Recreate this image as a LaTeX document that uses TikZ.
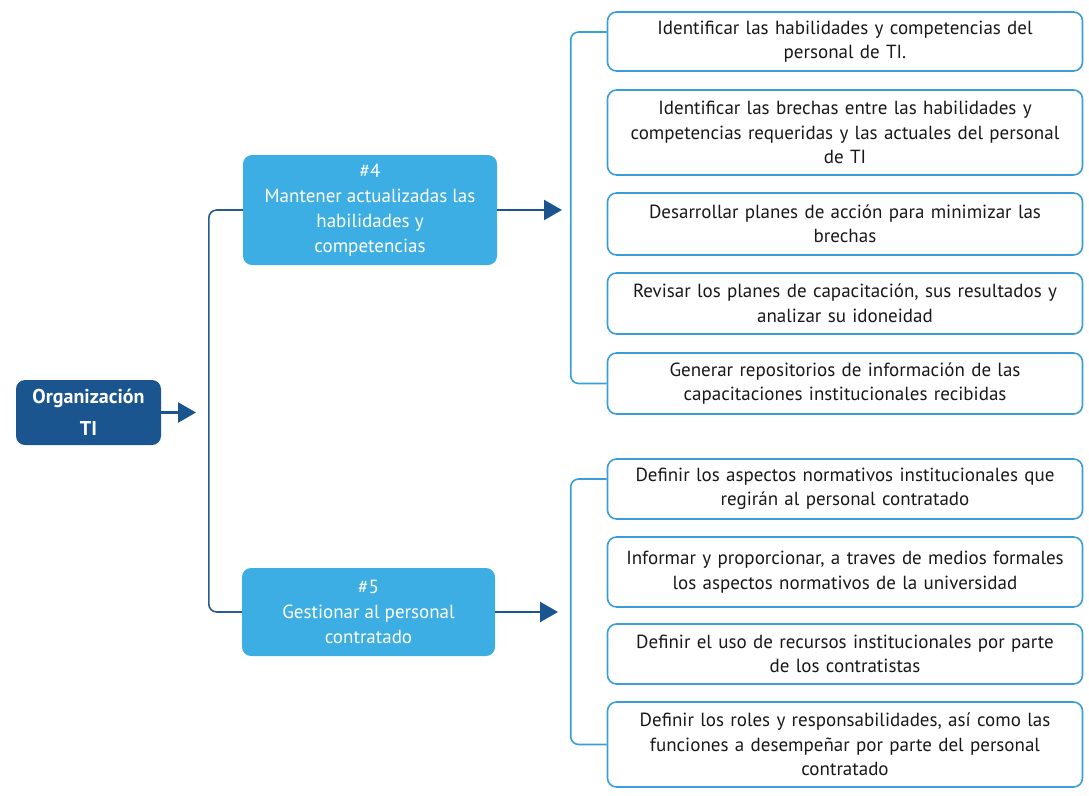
\documentclass[tikz,border=0pt]{standalone}
\usepackage{fontspec}
\setmainfont{PT Sans}
\usetikzlibrary{arrows.meta}
\definecolor{darkb}{HTML}{1B5590}
\definecolor{lightb}{HTML}{3DAEE3}
\definecolor{edgeb}{HTML}{3A9FD6}
\definecolor{linedark}{HTML}{2B5A8C}
\tikzset{
  rbox/.style={draw=edgeb, line width=1.6pt, fill=white, rounded corners=9pt,
    minimum width=475pt, text width=470pt, align=center, inner sep=0pt,
    font=\fontsize{19}{24.5}\selectfont, text=black!90},
  tbox/.style={fill=lightb, rounded corners=9pt, align=center, inner sep=0pt,
    text=white, font=\fontsize{19}{25}\selectfont},
  obox/.style={fill=darkb, rounded corners=9pt, align=center, inner sep=0pt,
    text=white, font=\bfseries\fontsize{20}{32}\selectfont},
  darrow/.style={draw=darkb, line width=2.4pt, -{Triangle[length=18pt,width=20pt]}},
  trunk/.style={draw=linedark, line width=1.6pt, rounded corners=8pt},
  bracket/.style={draw=edgeb, line width=1.6pt, rounded corners=8pt},
}
\begin{document}
\begin{tikzpicture}[x=1pt,y=-1pt]
\useasboundingbox (0,0) rectangle (1089,795);
% root
\node[obox, minimum width=145pt, minimum height=65pt] (org) at (88.5,412.5) {Organización\\TI};
\node[tbox, minimum width=254pt, minimum height=110pt] (t4) at (370,210) {\#4\\Mantener actualizadas las\\habilidades y\\competencias};
\node[tbox, minimum width=253pt, minimum height=88pt] (t5) at (368.5,612) {\#5\\Gestionar al personal\\contratado};
% right boxes
\node[rbox, minimum height=59pt] (b1) at (845,41.5) {Identificar las habilidades y competencias del\\personal de TI.};
\node[rbox, minimum height=85pt] (b2) at (845,132.5) {Identificar las brechas entre las habilidades y\\competencias requeridas y las actuales del personal\\de TI};
\node[rbox, minimum height=62pt] (b3) at (845,224) {Desarrollar planes de acción para minimizar las\\brechas};
\node[rbox, minimum height=61pt] (b4) at (845,303.5) {Revisar los planes de capacitación, sus resultados y\\analizar su idoneidad};
\node[rbox, minimum height=61pt] (b5) at (845,383.5) {Generar repositorios de información de las\\capacitaciones institucionales recibidas};
\node[rbox, minimum height=60pt] (b6) at (845,489) {Definir los aspectos normativos institucionales que\\regirán al personal contratado};
\node[rbox, minimum height=70pt] (b7) at (845,572) {Informar y proporcionar, a traves de medios formales\\los aspectos normativos de la universidad};
\node[rbox, minimum height=60pt] (b8) at (845,654) {Definir el uso de recursos institucionales por parte\\de los contratistas};
\node[rbox, minimum height=85pt] (b9) at (845,744.5) {Definir los roles y responsabilidades, así como las\\funciones a desempeñar por parte del personal\\contratado};
% arrow ends
\coordinate (oa) at (196,412.5);
\coordinate (a4) at (562,210);
\coordinate (a5) at (558,612);
\draw[darrow] (org.east) -- (oa);
\draw[darrow] (t4.east) -- (a4);
\draw[darrow] (t5.east) -- (a5);
% trunk
\draw[trunk] (t4.west) -- ++(-34,0) |- (t5.west);
% brackets
\draw[bracket] ([yshift=9.5pt]b1.west) -- ++(-36,0) |- (b5.west);
\draw[bracket] ([yshift=10pt]b6.west) -- ++(-36,0) |- (b9.west);
\end{tikzpicture}
\end{document}
